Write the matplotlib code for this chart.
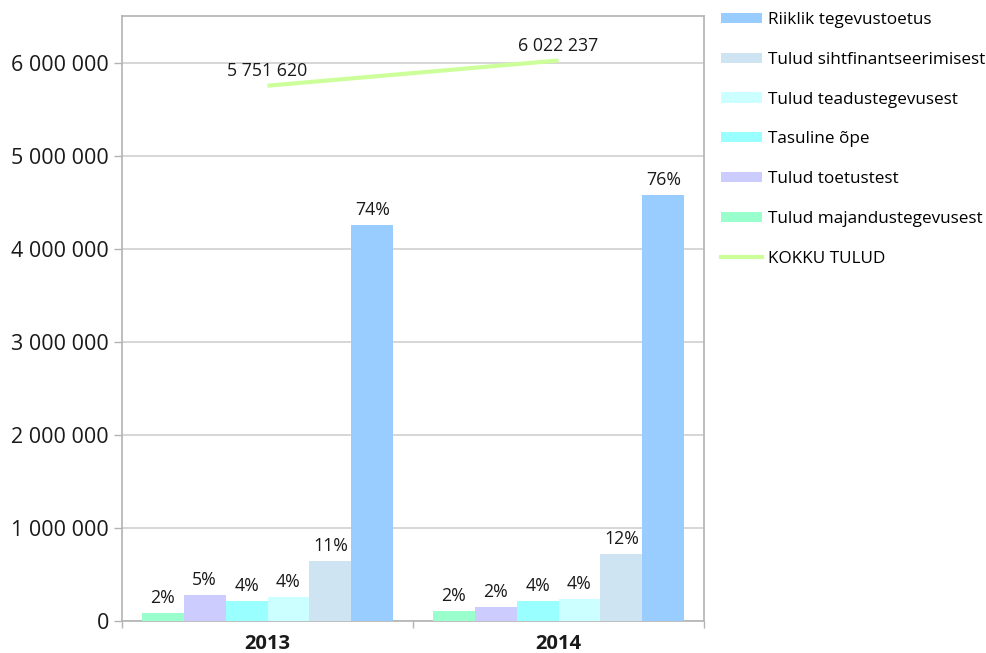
import matplotlib
matplotlib.use("Agg")
import matplotlib.pyplot as plt
from matplotlib.patches import Patch
from matplotlib.lines import Line2D
from matplotlib.ticker import FuncFormatter
import numpy as np

plt.rcParams['font.family'] = ['Open Sans', 'DejaVu Sans']

years = ["2013", "2014"]
series_names = [
    "Tulud majandustegevusest",
    "Tulud toetustest",
    "Tasuline õpe",
    "Tulud teadustegevusest",
    "Tulud sihtfinantseerimisest",
    "Riiklik tegevustoetus",
]
majandus = [89000, 111000]
toetused = [282000, 154000]
tasuline = [218000, 218000]
teadus = [261000, 240000]
sihtfin = [648000, 723000]
riiklik = [4256000, 4577000]
kokku = [5751620, 6022237]
kokku_labels = ["5 751 620", "6 022 237"]
pct_labels = [
    ["2%", "2%"],
    ["5%", "2%"],
    ["4%", "4%"],
    ["4%", "4%"],
    ["11%", "12%"],
    ["74%", "76%"],
]
colors = ["#99ffcc", "#ccccff", "#99ffff", "#ccffff", "#cfe4f3", "#99ccff"]
line_color = "#ccff99"
series_values = [majandus, toetused, tasuline, teadus, sihtfin, riiklik]

fig = plt.figure(figsize=(9.87, 6.53), dpi=100)
ax = fig.add_axes([122/987, (653-621.3)/653, (704-122)/987, (621.3-16)/653])

x = np.arange(len(years))
w = 0.1443
for i, (vals, col) in enumerate(zip(series_values, colors)):
    pos = x + (i - 2.5) * w
    ax.bar(pos, vals, width=w, color=col, linewidth=0, zorder=3)
    for p, v, lab in zip(pos, vals, pct_labels[i]):
        ax.annotate(lab, (p, v), xytext=(0, 10.8), textcoords="offset points",
                    ha="center", va="center", fontsize=12.8, color="#1a1a1a", zorder=5)

ax.plot(x, kokku, color=line_color, linewidth=3, zorder=4, solid_capstyle="butt")
for xi, v, lab in zip(x, kokku, kokku_labels):
    ax.annotate(lab, (xi, v), xytext=(0, 10.6), textcoords="offset points",
                ha="center", va="center", fontsize=12.8, color="#1a1a1a", zorder=5)

ax.set_xlim(-0.5, 1.5)
ax.set_ylim(0, 6500000)
ax.set_yticks(np.arange(0, 6000001, 1000000))
ax.yaxis.set_major_formatter(FuncFormatter(lambda v, p: f"{int(v):,}".replace(",", " ")))
ax.set_xticks([-0.5, 0.5, 1.5], minor=False)
ax.set_xticklabels(["", "", ""])
ax.set_xticks(x, minor=True)
ax.set_xticklabels(years, minor=True, fontsize=14.5, fontweight="bold", color="#1a1a1a")
ax.tick_params(axis="x", which="minor", length=0, pad=9.5)
ax.tick_params(axis="x", which="major", length=5, width=1, color="#b3b3b3")
ax.tick_params(axis="y", length=5.5, width=1, color="#b3b3b3", labelsize=15.5, labelcolor="#1a1a1a", pad=4)
ax.grid(axis="y", color="#d0d0d0", linewidth=1.2, zorder=0)
ax.set_axisbelow(True)
for s in ax.spines.values():
    s.set_color("#b3b3b3")
    s.set_linewidth(1.2)

handles = [Patch(facecolor=c, edgecolor="none") for c in colors[::-1]]
labels = series_names[::-1]
handles.append(Line2D([0], [0], color=line_color, linewidth=3))
labels.append("KOKKU TULUD")
fig.legend(handles, labels, loc="upper left", bbox_to_anchor=(716/987, 1 - 7/653),
           frameon=False, fontsize=12.3, handlelength=2.4, handleheight=0.55,
           labelspacing=1.39, handletextpad=0.35, borderaxespad=0, borderpad=0.3)

fig.savefig("out.png", dpi=100)
